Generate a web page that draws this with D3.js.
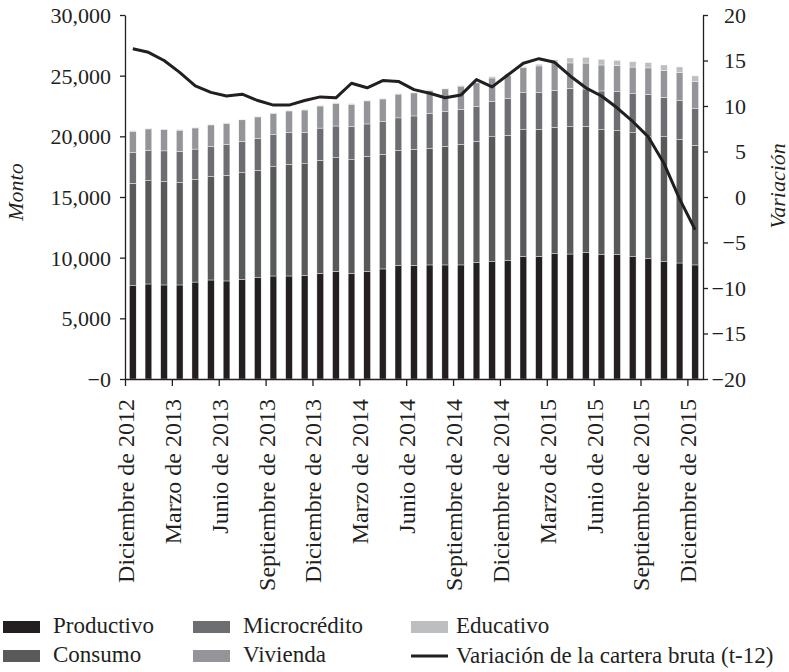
<!DOCTYPE html>
<html>
<head>
<meta charset="utf-8">
<script src="https://cdn.jsdelivr.net/npm/d3@7"></script>
<style>
  body { margin: 0; background: #fff; }
  svg { display: block; }
  text { font-family: "Liberation Serif", "Times New Roman", serif; fill: #231f20; }
</style>
</head>
<body>
<svg width="789" height="672"></svg>
<script>
    // periodos mensuales, dic 2012 - dic 2015
    const meses = [
      "2012-12", "2013-01", "2013-02", "2013-03", "2013-04", "2013-05", "2013-06",
      "2013-07", "2013-08", "2013-09", "2013-10", "2013-11", "2013-12",
      "2014-01", "2014-02", "2014-03", "2014-04", "2014-05", "2014-06",
      "2014-07", "2014-08", "2014-09", "2014-10", "2014-11", "2014-12",
      "2015-01", "2015-02", "2015-03", "2015-04", "2015-05", "2015-06",
      "2015-07", "2015-08", "2015-09", "2015-10", "2015-11", "2015-12"
    ];

    // etiquetas del eje x (cada 3 meses)
    const etiquetas = [
      "Diciembre de 2012", "Marzo de 2013", "Junio de 2013", "Septiembre de 2013",
      "Diciembre de 2013", "Marzo de 2014", "Junio de 2014", "Septiembre de 2014",
      "Diciembre de 2014", "Marzo de 2015", "Junio de 2015", "Septiembre de 2015",
      "Diciembre de 2015"
    ];

    const productivo = [7690, 7830, 7750, 7750, 7990, 8160, 8080, 8220, 8350, 8490, 8490, 8540,
      8710, 8870, 8710, 8870, 9070, 9370, 9370, 9400, 9400, 9400, 9590, 9670, 9750,
      10110, 10110, 10330, 10300, 10410, 10250, 10250, 10080, 9920, 9670, 9560, 9400];

    const consumo = [8440, 8520, 8520, 8440, 8460, 8520, 8710, 8790, 8850, 9010, 9200, 9200,
      9310, 9370, 9370, 9480, 9450, 9480, 9560, 9590, 9780, 9950, 10000, 10300, 10330,
      10440, 10470, 10410, 10500, 10410, 10300, 10220, 10220, 10060, 10300, 10190, 9860];

    const microcredito = [2530, 2470, 2530, 2560, 2500, 2470, 2530, 2560, 2610, 2640, 2610, 2580,
      2660, 2610, 2720, 2670, 2690, 2670, 2750, 2890, 2860, 2860, 2860, 2890, 3020,
      3050, 3020, 3050, 3160, 3080, 3190, 3210, 3210, 3460, 3240, 3190, 3020];

    const vivienda = [1760, 1790, 1740, 1760, 1740, 1790, 1740, 1790, 1790, 1740, 1790, 1850,
      1820, 1870, 1850, 1900, 1870, 1960, 1900, 1900, 1870, 1930, 1960, 1950, 1940,
      2060, 2200, 2340, 2090, 2140, 2140, 2170, 2200, 2200, 2200, 2310, 2230];

    const educativo = [50, 50, 50, 50, 50, 50, 50, 50, 50, 50, 50, 50,
      50, 50, 50, 50, 50, 50, 50, 50, 50, 50, 50, 110, 90,
      80, 140, 170, 410, 470, 470, 410, 440, 440, 470, 470, 470];

    // variacion de la cartera bruta (t-12), %
    const variacion = [16.3, 15.9, 15.0, 13.7, 12.2, 11.5, 11.1, 11.3, 10.6, 10.1, 10.1, 10.6,
      11.0, 10.9, 12.5, 12.0, 12.8, 12.7, 11.8, 11.4, 10.9, 11.2, 12.9, 12.1, 13.4,
      14.7, 15.2, 14.8, 13.3, 12.0, 11.1, 9.8, 8.3, 6.6, 3.7, -0.2, -3.6];

    const series = ["productivo", "consumo", "microcredito", "vivienda", "educativo"];
    const nombres = ["Productivo", "Consumo", "Microcrédito", "Vivienda", "Educativo"];
    const colores = ["#231f20", "#58595b", "#6d6e71", "#939598", "#bcbec0"];

    const tabla = meses.map((m, i) => ({
      mes: m,
      productivo: productivo[i],
      consumo: consumo[i],
      microcredito: microcredito[i],
      vivienda: vivienda[i],
      educativo: educativo[i]
    }));

    const svg = d3.select("svg"),
          margin = {top: 15, right: 86, bottom: 293, left: 125},
          width = +svg.attr("width") - margin.left - margin.right,
          height = +svg.attr("height") - margin.top - margin.bottom;

    const g = svg.append("g").attr("transform", `translate(${margin.left},${margin.top})`);

    const x = d3.scaleBand()
      .domain(meses)
      .range([0, width])
      .paddingInner(0.57)
      .paddingOuter(0.285);

    // ticks at the start of each band
    const xi = d3.scaleLinear().domain([0, meses.length]).range([0, width]);

    const yL = d3.scaleLinear().domain([0, 30000]).range([height, 0]);
    const yR = d3.scaleLinear().domain([-20, 20]).range([height, 0]);

    const color = d3.scaleOrdinal().domain(series).range(colores);

    const stacked = d3.stack().keys(series)(tabla);

    // bars
    g.append("g")
      .selectAll("g")
      .data(stacked)
      .join("g")
        .attr("fill", d => color(d.key))
      .selectAll("rect")
      .data(d => d)
      .join("rect")
        .attr("x", d => x(d.data.mes))
        .attr("y", d => yL(d[1]))
        .attr("width", x.bandwidth())
        .attr("height", d => yL(d[0]) - yL(d[1]))
        .attr("stroke", "#fff")
        .attr("stroke-width", 0.4);

    // line
    const line = d3.line()
      .x((d, i) => x(meses[i]) + x.bandwidth() / 2)
      .y(d => yR(d));

    g.append("path")
      .datum(variacion)
      .attr("fill", "none")
      .attr("stroke", "#231f20")
      .attr("stroke-width", 3)
      .attr("stroke-linejoin", "round")
      .attr("d", line);

    // axes
    const axisStyle = sel => {
      sel.selectAll("path, line").attr("stroke", "#231f20").attr("stroke-width", 1.3);
      sel.selectAll("text").style("font-size", "22px").attr("fill", "#231f20");
    };

    const yLeft = g.append("g")
      .call(d3.axisLeft(yL)
        .tickValues(d3.range(0, 30001, 5000))
        .tickSize(5)
        .tickSizeOuter(0)
        .tickPadding(9)
        .tickFormat(d => d === 0 ? "−0" : d3.format(",")(d)))
      .call(axisStyle);
    yLeft.selectAll("text").attr("dy", "0.34em");

    const yRight = g.append("g")
      .attr("transform", `translate(${width},0)`)
      .call(d3.axisRight(yR)
        .tickValues(d3.range(-20, 21, 5))
        .tickSize(5)
        .tickSizeOuter(0)
        .tickFormat(d => d < 0 ? "−" + Math.abs(d) : d))
      .call(axisStyle);
    yRight.selectAll("text")
      .attr("text-anchor", "end")
      .attr("x", 43)
      .attr("dy", "0.34em");

    const xAxis = g.append("g")
      .attr("transform", `translate(0,${height})`)
      .call(d3.axisBottom(xi)
        .tickValues(d3.range(0, meses.length, 3))
        .tickSize(7)
        .tickSizeOuter(0)
        .tickFormat((d, i) => etiquetas[i]))
      .call(axisStyle);
    xAxis.selectAll("text")
      .style("font-size", "24px")
      .attr("transform", "rotate(-90)")
      .attr("text-anchor", "end")
      .attr("x", -20)
      .attr("y", 0)
      .attr("dy", "0.35em");

    // axis titles
    svg.append("text")
      .attr("transform", "translate(15,192) rotate(-90)")
      .attr("text-anchor", "middle")
      .attr("dy", "0.35em")
      .style("font-size", "22px")
      .style("font-style", "italic")
      .text("Monto");

    svg.append("text")
      .attr("transform", "translate(777,186) rotate(-90)")
      .attr("text-anchor", "middle")
      .attr("dy", "0.35em")
      .style("font-size", "22px")
      .style("font-style", "italic")
      .text("Variación");

    // legend
    const legendItems = [
      {key: "productivo", col: 0, row: 0},
      {key: "microcredito", col: 1, row: 0},
      {key: "educativo", col: 2, row: 0},
      {key: "consumo", col: 0, row: 1},
      {key: "vivienda", col: 1, row: 1},
      {key: "linea", col: 2, row: 1}
    ];
    const colX = [3, 193, 411];
    const rowY = [627, 656];

    const legend = svg.append("g");
    legendItems.forEach(it => {
      const lx = colX[it.col], ly = rowY[it.row];
      if (it.key === "linea") {
        legend.append("line")
          .attr("x1", lx).attr("x2", lx + 37)
          .attr("y1", ly).attr("y2", ly)
          .attr("stroke", "#231f20")
          .attr("stroke-width", 3);
        legend.append("text")
          .attr("x", lx + 45).attr("y", ly + 7)
          .style("font-size", "23px")
          .text("Variación de la cartera bruta (t-12)");
      } else {
        legend.append("rect")
          .attr("x", lx).attr("y", ly - 6)
          .attr("width", 37).attr("height", 12)
          .attr("fill", color(it.key));
        legend.append("text")
          .attr("x", lx + (it.col === 2 ? 45 : 50)).attr("y", ly + 6)
          .style("font-size", "23px")
          .text(nombres[series.indexOf(it.key)]);
      }
    });
</script>
</body>
</html>
